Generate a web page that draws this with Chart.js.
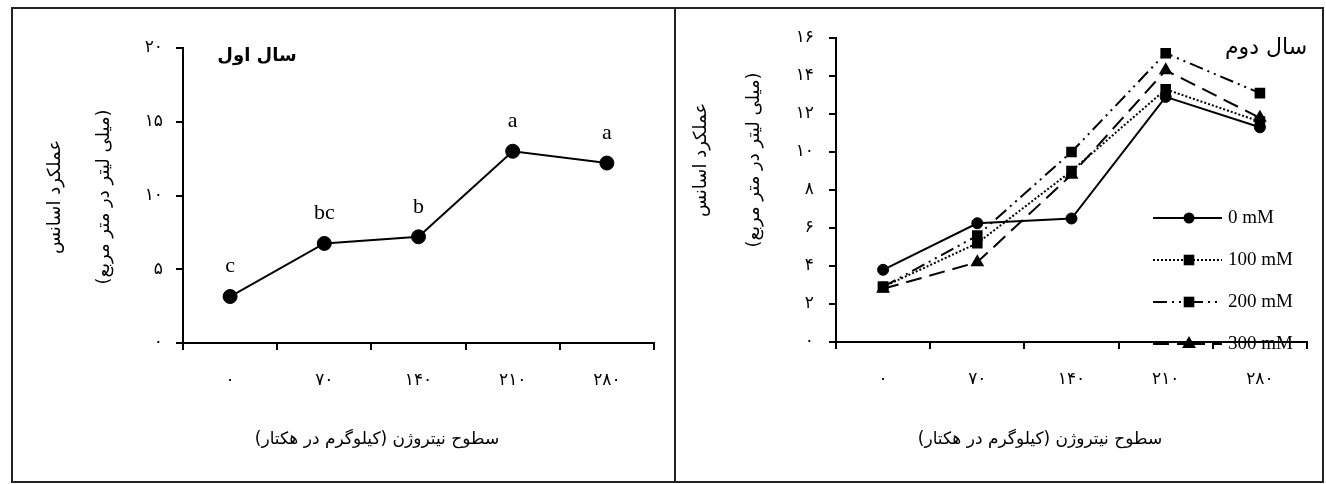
<!DOCTYPE html>
<html>
<head>
<meta charset="utf-8">
<script src="https://cdn.jsdelivr.net/npm/chart.js@4.4.0/dist/chart.umd.min.js"></script>
<style>
body { margin: 0; background: #fff; width: 1326px; height: 484px; position: relative; overflow: hidden; }
.painel { position: absolute; top: 7px; height: 476px; border: 2px solid #222; box-sizing: border-box; }
#p1 { left: 11px; width: 665px; }
#p2 { left: 674px; width: 650px; }
canvas { display: block; }
</style>
</head>
<body>
<div class="painel" id="p1"><canvas id="grafico-ano1" width="661" height="472"></canvas></div>
<div class="painel" id="p2"><canvas id="grafico-ano2" width="646" height="472"></canvas></div>
<script>
// dados
var nitrogenLevels = [0, 70, 140, 210, 280];
var year1Yield = [3.15, 6.75, 7.2, 13.0, 12.2];
var year1Letters = ['c', 'bc', 'b', 'a', 'a'];
var year2Series = ['0 mM', '100 mM', '200 mM', '300 mM'];
var year2_0mM = [3.8, 6.25, 6.5, 12.9, 11.3];
var year2_100mM = [2.9, 5.2, 9.0, 13.3, 11.6];
var year2_200mM = [2.9, 5.6, 10.0, 15.2, 13.1];
var year2_300mM = [2.8, 4.2, 8.8, 14.3, 11.8];

var fonteFa = "'DejaVu Sans', sans-serif";
var fonteLat = "'Liberation Serif', serif";

function fa(n) {
    return String(n).replace(/[0-9]/g, function (d) { return '۰۱۲۳۴۵۶۷۸۹'[d]; });
}

function escalas(yMax, yPasso, larguraY, alturaX, padY) {
    return {
        x: {
            offset: true,
            grid: { display: true, drawOnChartArea: false, drawTicks: true, tickLength: 7, offset: true, color: '#000', lineWidth: 2 },
            border: { display: true, color: '#000', width: 2 },
            ticks: { color: '#000', font: { family: fonteFa, size: 17 }, padding: 20, maxRotation: 0 },
            afterFit: function (s) { s.height = alturaX; }
        },
        y: {
            min: 0,
            max: yMax,
            grid: { display: true, drawOnChartArea: false, drawTicks: true, tickLength: 7, color: '#000', lineWidth: 2 },
            border: { display: true, color: '#000', width: 2 },
            ticks: { stepSize: yPasso, color: '#000', font: { family: fonteFa, size: 17 }, padding: padY, callback: function (v) { return fa(v); } },
            afterFit: function (s) { s.width = larguraY; }
        }
    };
}

function textos(itens) {
    return {
        id: 'textos',
        afterDraw: function (chart) {
            var ctx = chart.ctx;
            itens.forEach(function (t) {
                ctx.save();
                ctx.translate(t.x, t.y);
                if (t.rot) ctx.rotate(t.rot * Math.PI / 180);
                ctx.direction = 'rtl';
                ctx.font = t.font;
                ctx.fillStyle = '#000';
                ctx.textAlign = 'center';
                ctx.textBaseline = 'middle';
                ctx.fillText(t.text, 0, 0);
                ctx.restore();
            });
        }
    };
}

var letras = {
    id: 'letras',
    afterDatasetsDraw: function (chart) {
        var ctx = chart.ctx;
        var meta = chart.getDatasetMeta(0);
        ctx.save();
        ctx.font = '22px ' + fonteLat;
        ctx.fillStyle = '#000';
        ctx.textAlign = 'center';
        ctx.textBaseline = 'middle';
        meta.data.forEach(function (pt, i) {
            ctx.fillText(year1Letters[i], pt.x, pt.y - 30);
        });
        ctx.restore();
    }
};

var legendaLinhas = {
    id: 'legendaLinhas',
    afterDatasetsDraw: function (chart) {
        var ctx = chart.ctx;
        var x0 = 477, x1 = 546, xm = 513, xt = 552, y0 = 209, passo = 42;
        chart.data.datasets.forEach(function (ds, i) {
            var y = y0 + i * passo;
            ctx.save();
            ctx.strokeStyle = ds.borderColor;
            ctx.lineWidth = ds.borderWidth;
            ctx.setLineDash(ds.borderDash || []);
            // cada metade da amostra recomeça o tracejado
            ctx.beginPath();
            ctx.moveTo(x0, y);
            ctx.lineTo(xm, y);
            ctx.stroke();
            ctx.beginPath();
            ctx.moveTo(xm, y);
            ctx.lineTo(x1, y);
            ctx.stroke();
            ctx.setLineDash([]);
            ctx.fillStyle = ds.backgroundColor;
            Chart.helpers.drawPoint(ctx, { pointStyle: ds.pointStyle, rotation: 0, radius: ds.pointRadius, borderWidth: 0 }, xm, y);
            ctx.font = '19px ' + fonteLat;
            ctx.textAlign = 'left';
            ctx.textBaseline = 'middle';
            ctx.fillText(ds.label, xt, y);
            ctx.restore();
        });
    }
};

var grafico1 = new Chart(document.getElementById('grafico-ano1').getContext('2d'), {
    type: 'line',
    data: {
        labels: nitrogenLevels.map(fa),
        datasets: [{
            label: 'سال اول',
            data: year1Yield,
            borderColor: '#000',
            backgroundColor: '#000',
            borderWidth: 2,
            pointRadius: 7,
            pointBorderWidth: 1
        }]
    },
    options: {
        responsive: false,
        animation: false,
        events: [],
        layout: { padding: { top: 39, right: 20, left: 0, bottom: 0 } },
        plugins: { legend: { display: false }, tooltip: { enabled: false } },
        scales: escalas(20, 5, 170, 138, 13)
    },
    plugins: [letras, textos([
        { text: 'سال اول', x: 244, y: 47, font: 'bold 18px ' + fonteFa },
        { text: 'عملکرد اسانس', x: 42, y: 188, rot: -90, font: '18px ' + fonteFa },
        { text: '(میلی لیتر در متر مربع)', x: 91, y: 188, rot: -90, font: '18px ' + fonteFa },
        { text: 'سطوح نیتروژن (کیلوگرم در هکتار)', x: 364, y: 431, font: '17px ' + fonteFa }
    ])]
});

var grafico2 = new Chart(document.getElementById('grafico-ano2').getContext('2d'), {
    type: 'line',
    data: {
        labels: nitrogenLevels.map(fa),
        datasets: [{
            label: year2Series[0],
            data: year2_0mM,
            borderColor: '#000',
            backgroundColor: '#000',
            borderWidth: 2,
            pointStyle: 'circle',
            pointRadius: 5.5,
            pointBorderWidth: 1
        }, {
            label: year2Series[1],
            data: year2_100mM,
            borderColor: '#000',
            backgroundColor: '#000',
            borderWidth: 2,
            borderDash: [2, 2],
            pointStyle: 'rect',
            pointRadius: 7.5,
            pointBorderWidth: 0
        }, {
            label: year2Series[2],
            data: year2_200mM,
            borderColor: '#000',
            backgroundColor: '#000',
            borderWidth: 2,
            borderDash: [14, 5, 2, 5, 2, 5],
            pointStyle: 'rect',
            pointRadius: 7.5,
            pointBorderWidth: 0
        }, {
            label: year2Series[3],
            data: year2_300mM,
            borderColor: '#000',
            backgroundColor: '#000',
            borderWidth: 2,
            borderDash: [16, 8],
            pointStyle: 'triangle',
            pointRadius: 8,
            pointBorderWidth: 0
        }]
    },
    options: {
        responsive: false,
        animation: false,
        events: [],
        layout: { padding: { top: 29, right: 15, left: 0, bottom: 0 } },
        plugins: { legend: { display: false }, tooltip: { enabled: false } },
        scales: escalas(16, 2, 160, 139, 15)
    },
    plugins: [legendaLinhas, textos([
        { text: 'سال دوم', x: 590, y: 39, font: '22px ' + fonteFa },
        { text: 'عملکرد اسانس', x: 25, y: 151, rot: -90, font: '18px ' + fonteFa },
        { text: '(میلی لیتر در متر مربع)', x: 78, y: 151, rot: -90, font: '18px ' + fonteFa },
        { text: 'سطوح نیتروژن (کیلوگرم در هکتار)', x: 364, y: 431, font: '17px ' + fonteFa }
    ])]
});
</script>
</body>
</html>
